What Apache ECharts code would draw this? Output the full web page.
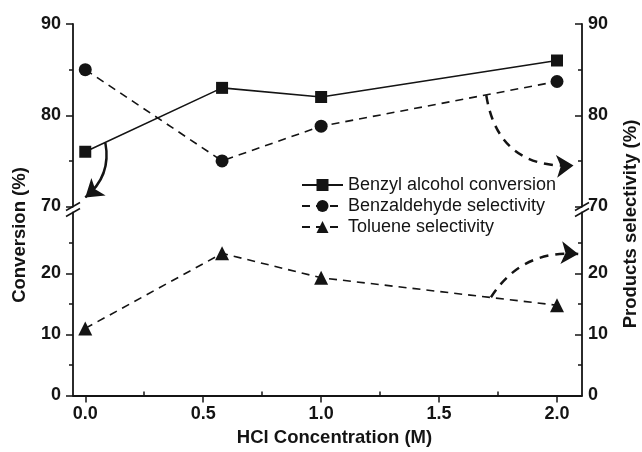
<!DOCTYPE html>
<html>
<head>
<meta charset="utf-8">
<script src="https://cdn.jsdelivr.net/npm/echarts@6/dist/echarts.min.js"></script>
<style>
  html, body { margin: 0; padding: 0; background: #fff; }
  #chart { width: 642px; height: 452px; }
</style>
</head>
<body>
<div id="chart"></div>
<script>
// HCl concentration (M)
const hcl = [0, 0.58, 1.0, 2.0]
const benzylConversion = [76, 83, 82, 86]
const benzaldehydeSel = [85, 75, 78.8, 83.7]
const tolueneSel = [11, 23.3, 19.3, 14.8]

const xTicks = [0, 0.5, 1.0, 1.5, 2.0]
const xMinorTicks = [0.25, 0.75, 1.25, 1.75]
const lowTicks = [0, 10, 20]

// annotation arrows: [start, end] in data units
const arrowConversion = [[0.085, 77], [0.0, 71]]
const arrowBenzaldehyde = [[1.70, 82.2], [2.07, 74.5]]
const arrowToluene = [[1.72, 16.1], [2.09, 23.2]]

const xMin = -0.052
const xMax = 2.106
const ink = '#141414'
const font = 'Liberation Sans'

const chart = echarts.init(document.getElementById('chart'))

const boldLabel = { color: ink, fontFamily: font, fontSize: 18, fontWeight: 'bold' }
const line = { show: true, onZero: false, lineStyle: { color: ink, width: 1.8 } }

// y axis for one grid, left or right
function yAxis(gridIndex, position, min, max, custom) {
  const right = position === 'right'
  const ax = {
    type: 'value',
    gridIndex: gridIndex,
    position: position,
    min: min,
    max: max,
    interval: 10,
    splitLine: { show: false },
    axisLine: line,
    axisTick: { inside: right, length: 7, lineStyle: { color: ink, width: 1.5 } },
    minorTick: { show: true, splitNumber: 2, length: 4, lineStyle: { color: ink, width: 1.5 } },
    axisLabel: Object.assign({ margin: right ? 6 : 12 }, boldLabel)
  }
  if (custom) {
    ax.axisTick.customValues = custom
    ax.axisLabel.customValues = custom
  }
  return ax
}

const option = {
  backgroundColor: '#fff',
  animation: false,
  grid: [
    { left: 73, right: 60, top: 24, height: 182.5 },
    { left: 73, right: 60, top: 212.5, height: 183 }
  ],
  xAxis: [
    { type: 'value', gridIndex: 0, min: xMin, max: xMax, show: false },
    {
      type: 'value', gridIndex: 1, min: xMin, max: xMax,
      splitLine: { show: false },
      axisLine: line,
      axisTick: { customValues: xTicks, length: 7, lineStyle: { color: ink, width: 1.5 } },
      axisLabel: Object.assign({ customValues: xTicks, margin: 10, formatter: v => v.toFixed(1) }, boldLabel)
    },
    {
      // minor ticks of the x axis
      type: 'value', gridIndex: 1, min: xMin, max: xMax,
      splitLine: { show: false },
      axisLine: { show: false },
      axisLabel: { show: false },
      axisTick: { customValues: xMinorTicks, length: 4, lineStyle: { color: ink, width: 1.5 } }
    }
  ],
  yAxis: [
    yAxis(0, 'left', 70, 90),
    yAxis(0, 'right', 70, 90),
    yAxis(1, 'left', 0, 30, lowTicks),
    yAxis(1, 'right', 0, 30, lowTicks)
  ],
  legend: {
    data: ['Benzyl alcohol conversion', 'Benzaldehyde selectivity', 'Toluene selectivity'],
    orient: 'vertical',
    left: 296,
    top: 170,
    itemWidth: 41,
    itemHeight: 15,
    itemGap: 1,
    textStyle: { color: ink, fontFamily: font, fontSize: 18, lineHeight: 20 }
  },
  series: [
    {
      name: 'Benzyl alcohol conversion', type: 'line', xAxisIndex: 0, yAxisIndex: 0,
      data: hcl.map((x, i) => [x, benzylConversion[i]]),
      symbol: 'rect', symbolSize: 12,
      lineStyle: { color: ink, width: 1.6 },
      itemStyle: { color: ink }
    },
    {
      name: 'Benzaldehyde selectivity', type: 'line', xAxisIndex: 0, yAxisIndex: 0,
      data: hcl.map((x, i) => [x, benzaldehydeSel[i]]),
      symbol: 'circle', symbolSize: 13,
      lineStyle: { color: ink, width: 1.6, type: [8, 6] },
      itemStyle: { color: ink }
    },
    {
      name: 'Toluene selectivity', type: 'line', xAxisIndex: 1, yAxisIndex: 2,
      data: hcl.map((x, i) => [x, tolueneSel[i]]),
      symbol: 'triangle', symbolSize: 14,
      lineStyle: { color: ink, width: 1.6, type: [8, 6] },
      itemStyle: { color: ink }
    },
    {
      type: 'lines', coordinateSystem: 'cartesian2d', xAxisIndex: 0, yAxisIndex: 0, silent: true,
      data: [{ coords: arrowConversion }],
      symbol: ['none', 'arrow'], symbolSize: 17,
      lineStyle: { color: ink, width: 2.5, curveness: 0.3, opacity: 1 }
    },
    {
      type: 'lines', coordinateSystem: 'cartesian2d', xAxisIndex: 0, yAxisIndex: 0, silent: true,
      data: [{ coords: arrowBenzaldehyde }],
      symbol: ['none', 'arrow'], symbolSize: 17,
      lineStyle: { color: ink, width: 2.5, type: [9, 7], curveness: -0.45, opacity: 1 }
    },
    {
      type: 'lines', coordinateSystem: 'cartesian2d', xAxisIndex: 1, yAxisIndex: 2, silent: true,
      data: [{ coords: arrowToluene }],
      symbol: ['none', 'arrow'], symbolSize: 17,
      lineStyle: { color: ink, width: 2.5, type: [9, 7], curveness: 0.3, opacity: 1 }
    }
  ]
}

chart.setOption(option)

// axis names and the // break marks on both y axes
const top70L = chart.convertToPixel({ xAxisIndex: 0, yAxisIndex: 0 }, [xMin, 70])
const top70R = chart.convertToPixel({ xAxisIndex: 0, yAxisIndex: 0 }, [xMax, 70])
const low30 = chart.convertToPixel({ xAxisIndex: 1, yAxisIndex: 2 }, [xMin, 30])
const bottom = chart.convertToPixel({ xAxisIndex: 1, yAxisIndex: 2 }, [xMin, 0])

function slash(x, y) {
  return {
    type: 'line', silent: true,
    shape: { x1: x - 7, y1: y + 4, x2: x + 7, y2: y - 4 },
    style: { stroke: ink, lineWidth: 1.5 }
  }
}

const nameFont = 'bold 18.5px "Liberation Sans"'
const midX = (top70L[0] + top70R[0]) / 2
chart.setOption({
  graphic: [
    slash(top70L[0], top70L[1]), slash(top70L[0], low30[1]),
    slash(top70R[0], top70L[1]), slash(top70R[0], low30[1]),
    {
      type: 'text', x: 20, y: 235, rotation: Math.PI / 2,
      style: { text: 'Conversion (%)', fill: ink, font: nameFont, textAlign: 'center', textVerticalAlign: 'middle' }
    },
    {
      type: 'text', x: 631, y: 224, rotation: Math.PI / 2,
      style: { text: 'Products selectivity (%)', fill: ink, font: nameFont, textAlign: 'center', textVerticalAlign: 'middle' }
    },
    {
      type: 'text', x: midX + 7, y: bottom[1] + 42,
      style: { text: 'HCl Concentration (M)', fill: ink, font: nameFont, textAlign: 'center', textVerticalAlign: 'middle' }
    }
  ]
})
</script>
</body>
</html>
